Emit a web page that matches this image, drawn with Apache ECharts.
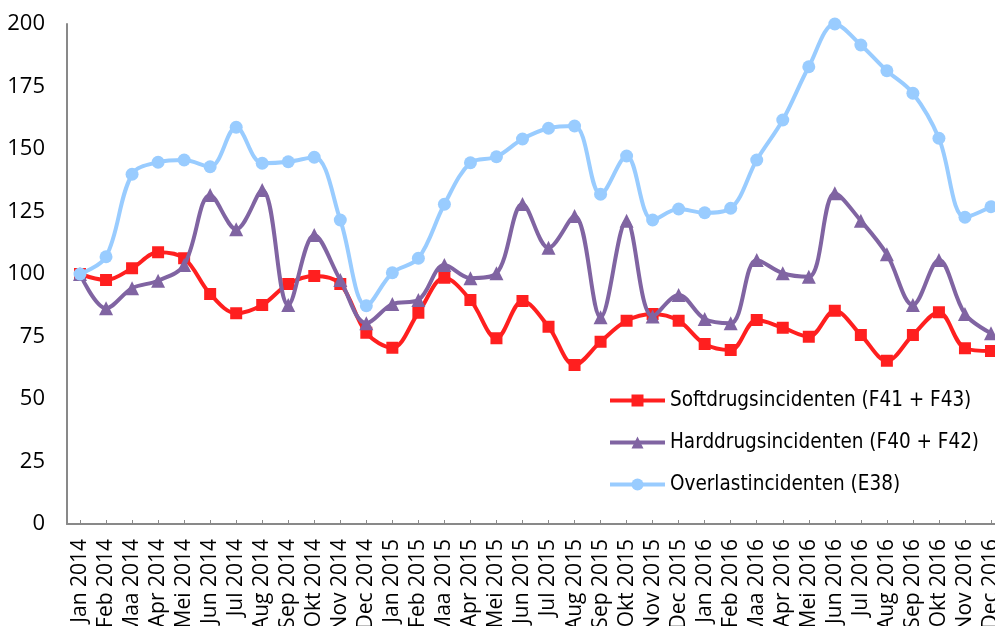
<!DOCTYPE html>
<html>
<head>
<meta charset="utf-8">
<script src="https://cdn.jsdelivr.net/npm/echarts@6/dist/echarts.min.js"></script>
<style>
html,body{margin:0;padding:0;background:#fff;}
#chart{width:995px;height:626px;}
</style>
</head>
<body>
<div id="chart"></div>
<script>
const categories = [
  'Jan 2014','Feb 2014','Maa 2014','Apr 2014','Mei 2014','Jun 2014','Jul 2014','Aug 2014','Sep 2014','Okt 2014','Nov 2014','Dec 2014',
  'Jan 2015','Feb 2015','Maa 2015','Apr 2015','Mei 2015','Jun 2015','Jul 2015','Aug 2015','Sep 2015','Okt 2015','Nov 2015','Dec 2015',
  'Jan 2016','Feb 2016','Maa 2016','Apr 2016','Mei 2016','Jun 2016','Jul 2016','Aug 2016','Sep 2016','Okt 2016','Nov 2016','Dec 2016'
];
const softdrugs = [
  100, 97.6, 102.3, 108.7, 106.3, 92, 84.3, 87.6, 96, 99.2, 96, 76.5,
  70.5, 84.5, 98.5, 89.6, 74.3, 89.2, 78.9, 63.6, 72.9, 81.3, 84, 81.3,
  72, 69.6, 81.6, 78.5, 74.9, 85.3, 75.6, 65.3, 75.6, 84.7, 70.3, 69.2
];
const harddrugs = [
  100, 86.3, 94.3, 97.3, 103.6, 131.6, 117.9, 133.6, 87.6, 115.6, 97.6, 80.3,
  88, 89.6, 103.6, 98.3, 100.3, 128, 110.5, 123.2, 82.7, 121.3, 83, 91.6,
  82, 80.3, 105.6, 100.3, 98.9, 132.3, 121.3, 107.9, 87.6, 105.6, 84, 76.3
];
const overlast = [
  100, 106.9, 139.9, 144.7, 145.6, 142.9, 158.7, 144.3, 144.9, 146.7, 121.6, 87.3,
  100.5, 106.3, 127.9, 144.5, 146.9, 154, 158.3, 159.2, 131.9, 147.2, 121.6, 126,
  124.5, 126.3, 145.6, 161.6, 182.9, 200, 191.6, 181.3, 172.3, 154.3, 122.7, 126.9
];
const seriesNames = ['Softdrugsincidenten (F41 + F43)', 'Harddrugsincidenten (F40 + F42)', 'Overlastincidenten (E38)'];
const yTicks = { min: 0, max: 200, interval: 25 };

const chart = echarts.init(document.getElementById('chart'), null, { renderer: 'canvas' });
const axisColor = '#898989';
const lineW = 4;
chart.setOption({
  animation: false,
  backgroundColor: '#ffffff',
  grid: { left: 67, width: 937, top: 24, bottom: 102, containLabel: false, outerBoundsMode: 'none' },
  legend: {
    orient: 'vertical',
    left: 608,
    top: 390,
    padding: 0,
    itemWidth: 55,
    itemHeight: 15,
    itemGap: 21,
    data: seriesNames,
    lineStyle: { width: 4 },
    textStyle: { fontFamily: 'DejaVu Sans Condensed', fontSize: 20.5, color: '#000', lineHeight: 19 }
  },
  xAxis: {
    type: 'category',
    data: categories,
    boundaryGap: true,
    axisLine: { lineStyle: { color: axisColor, width: 2 } },
    axisTick: { show: true, inside: true, alignWithLabel: true, length: 4, lineStyle: { color: axisColor, width: 1 } },
    axisLabel: { interval: 0, rotate: 90, margin: 15, fontFamily: 'Open Sans', fontSize: 21, color: '#000' },
    splitLine: { show: false }
  },
  yAxis: {
    type: 'value',
    min: yTicks.min,
    max: yTicks.max,
    interval: yTicks.interval,
    axisLine: { show: true, lineStyle: { color: axisColor, width: 2 } },
    axisTick: { show: false },
    axisLabel: { margin: 22, fontFamily: 'Open Sans', fontSize: 22, color: '#000' },
    splitLine: { show: false }
  },
  series: [
    {
      name: seriesNames[0], type: 'line', data: softdrugs, smooth: 0.35,
      symbol: 'rect', symbolSize: 12, z: 2,
      itemStyle: { color: '#FF1F1F' },
      lineStyle: { color: '#FF1F1F', width: lineW }
    },
    {
      name: seriesNames[1], type: 'line', data: harddrugs, smooth: 0.35,
      symbol: 'triangle', symbolSize: 14, z: 3,
      itemStyle: { color: '#8064A2' },
      lineStyle: { color: '#8064A2', width: lineW }
    },
    {
      name: seriesNames[2], type: 'line', data: overlast, smooth: 0.35,
      symbol: 'circle', symbolSize: 13, z: 4,
      itemStyle: { color: '#99CCFF' },
      lineStyle: { color: '#99CCFF', width: lineW }
    }
  ]
});
</script>
</body>
</html>
